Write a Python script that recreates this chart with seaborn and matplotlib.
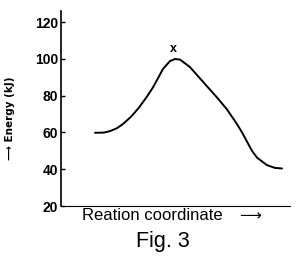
import matplotlib
matplotlib.use("Agg")
import matplotlib.pyplot as plt
import seaborn as sns
import pandas as pd

sns.set_theme(style="white")
plt.rcParams['font.family'] = ['Liberation Sans', 'DejaVu Sans']
plt.rcParams['text.color'] = 'black'
plt.rcParams['ytick.color'] = 'black'
plt.rcParams['xtick.color'] = 'black'
plt.rcParams['axes.labelcolor'] = 'black'

# Reaction coordinate (arbitrary units) and energy (kJ)
coord = [3.4, 4.3, 4.9, 5.6, 6.2, 7.0, 7.8, 8.6, 9.2, 9.6, 10.2, 10.9, 11.4, 11.9,
         12.9, 14.2, 15.6, 16.6, 17.1, 17.6, 18.1, 18.6, 19.1, 19.6, 20.6, 21.4, 22.1]
energy = [59.8, 59.9, 60.7, 62.3, 64.6, 68.5, 73.5, 79.5, 84.5, 88.5, 94.5, 98.8, 99.9, 99.6,
          95.5, 87.5, 79.0, 72.5, 68.5, 64.5, 60.0, 55.0, 50.0, 46.3, 42.2, 40.7, 40.4]
ts_coord = [11.2]
ts_energy = [105.5]
ts_label = "x"
yticks = [20, 40, 60, 80, 100, 120]

df = pd.DataFrame({"coord": coord, "energy": energy})

fig = plt.figure(figsize=(3.0, 2.58), dpi=100)
ax = fig.add_axes([61/300, 1-206/258, (290-61)/300, (206-11)/258])

sns.lineplot(data=df, x="coord", y="energy", ax=ax, color="black", linewidth=1.4)
ax.text(ts_coord[0], ts_energy[0], ts_label, ha="center", va="center",
        fontsize=9, fontweight="bold", color="black")

ax.set_xlim(0, 22.9)
ax.set_ylim(20, 126)
ax.set_yticks(yticks)
ax.set_yticklabels([str(v) for v in yticks], fontsize=10, fontweight="bold", color="black")
ax.set_xticks([])
ax.tick_params(axis="y", direction="in", length=3, width=1, color="black", pad=2, left=True)
ax.spines["top"].set_visible(False)
ax.spines["right"].set_visible(False)
ax.spines["left"].set_color("black")
ax.spines["bottom"].set_color("black")
ax.spines["left"].set_linewidth(1.2)
ax.spines["bottom"].set_linewidth(0.8)
ax.set_xlabel("")
ax.set_ylabel("")

fig.text(10/300, 1-118/258, "⟶ Energy (kJ)", rotation=90, ha="center", va="center",
         fontsize=7.5, fontweight="bold", family=['DejaVu Sans'], color="black")
fig.text(152/300, 1-216/258, "Reation coordinate", ha="center", va="center",
         fontsize=12, color="black")
fig.text(250/300, 1-216/258, "⟶", ha="center", va="center",
         fontsize=11, family=['DejaVu Sans'], color="black")
fig.text(163/300, 1-242/258, "Fig. 3", ha="center", va="center", fontsize=15.5, color="black")

fig.savefig("out.png", dpi=100)
